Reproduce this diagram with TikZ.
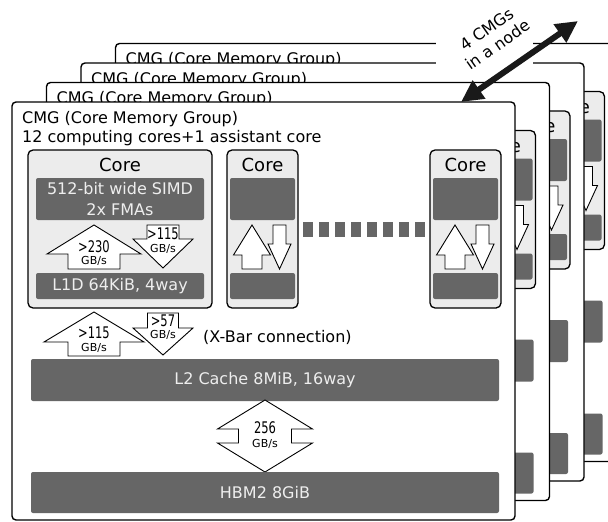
\documentclass[tikz,border=0pt]{standalone}
\usepackage{fontspec}
\setmainfont{DejaVu Sans}
\newfontfamily\condfont[FakeStretch=0.72]{DejaVu Sans}
\usepackage{graphicx}
\usetikzlibrary{arrows.meta}
\definecolor{barfill}{HTML}{666666}
\definecolor{corefill}{HTML}{ECECEC}
\definecolor{bartext}{HTML}{EEEEEE}
\tikzset{
  panelbox/.style={draw=black, fill=white, line width=1.4pt, rounded corners=4pt},
  corebox/.style={draw=black, fill=corefill, line width=1.3pt, rounded corners=5pt},
  bar/.style={fill=barfill, rounded corners=2pt, inner sep=0pt, text=bartext, align=center, font=\fontsize{16}{21}\selectfont},
  blockarr/.style={draw=black, fill=white, line width=0.9pt, line join=miter},
  numtxt/.style={font=\condfont\fontsize{16}{16}\selectfont, inner sep=0pt},
  unittxt/.style={font=\fontsize{11}{11}\selectfont, inner sep=0pt},
  titletxt/.style={font=\fontsize{16}{19}\selectfont, anchor=west, inner sep=0pt},
  coretitle/.style={font=\fontsize{18}{20}\selectfont, inner sep=0pt},
  cmgarrow/.style={{Triangle[length=22pt,width=21pt]}-{Triangle[length=22pt,width=21pt]}, line width=6pt, draw=black!90}
}
% text that only the front CMG shows (the others are covered)
\newcommand\fronttext[1]{\ifnum\k=0 #1\fi}
% block arrows: x, tip y, head half, head base y, shaft half, bottom y
\newcommand\blkup[6]{%
  \draw[blockarr] (#1,#2) -- ({#1+#3},#4) -- ({#1+#5},#4) -- ({#1+#5},#6) -- ({#1-#5},#6) -- ({#1-#5},#4) -- ({#1-#3},#4) -- cycle;}
% x, top y, shaft half, head base y, head half, tip y
\newcommand\blkdown[6]{%
  \draw[blockarr] ({#1-#3},#2) -- ({#1+#3},#2) -- ({#1+#3},#4) -- ({#1+#5},#4) -- (#1,#6) -- ({#1-#5},#4) -- ({#1-#3},#4) -- cycle;}
% narrow core: left x, name, title
\newcommand\narrowcore[3]{%
  \draw[corebox] (#1,150) rectangle ++(71,158);
  \node[coretitle] (#2) at ({#1+35.5},165) {#3};
  \node[bar, minimum width=65pt, minimum height=42pt] (#2simd) at ({#1+35.5},199) {};
  \node[bar, minimum width=65pt, minimum height=26pt] (#2lone) at ({#1+35.5},286) {};
  \blkup{#1+25}{225}{18.5}{255}{10}{269}
  \blkdown{#1+52.5}{225}{6.5}{244}{11.5}{269}}
% one CMG, names end in \k
\newcommand\cmgpanel{%
  \draw[panelbox] (12,102) rectangle (515,520);
  \node[titletxt] (cmgtitle\k) at (22,119) {CMG (Core Memory Group)};
  \node[titletxt] (cmgcores\k) at (22,138) {\fronttext{12 computing cores+1 assistant core}};
  % first core
  \draw[corebox] (28,150) rectangle (212,308);
  \node[coretitle] (corea\k) at (120,165) {\fronttext{Core}};
  \node[bar, minimum width=168pt, minimum height=42pt] (simd\k) at (120,199) {\fronttext{512-bit wide SIMD\\2x FMAs}};
  \node[bar, minimum width=168pt, minimum height=26pt] (lone\k) at (120,286) {\fronttext{L1D 64KiB, 4way}};
  \blkup{94}{225}{47}{254}{26}{269}
  \node[numtxt] (ldbw\k) at (94,247) {\fronttext{>230}};
  \node[unittxt] (ldunit\k) at (94,261) {\fronttext{GB/s}};
  \blkdown{163}{225}{16}{239}{30}{268}
  \node[numtxt] (stbw\k) at (163,234) {\fronttext{>115}};
  \node[unittxt] (stunit\k) at (163,249) {\fronttext{GB/s}};
  % other cores
  \narrowcore{227}{coreb\k}{\fronttext{Core}}
  \foreach \i in {0,...,7}
    \fill[barfill] ({303+16*\i},222) rectangle ++(10,15);
  \narrowcore{430}{corec\k}{Core}
  % x-bar
  \blkup{94}{312}{50}{342}{26}{356}
  \node[numtxt] (xldbw\k) at (94,333) {\fronttext{>115}};
  \node[unittxt] (xldunit\k) at (94,348) {\fronttext{GB/s}};
  \blkdown{163}{313}{15.5}{328}{30}{355}
  \node[numtxt] (xstbw\k) at (163,321) {\fronttext{>57}};
  \node[unittxt] (xstunit\k) at (163,335) {\fronttext{GB/s}};
  \node[titletxt] (xbar\k) at (203,337) {\fronttext{(X-Bar connection)}};
  % L2 and HBM2
  \node[bar, minimum width=468pt, minimum height=42pt] (ltwo\k) at (265,380) {\fronttext{L2 Cache 8MiB, 16way}};
  \draw[blockarr] (265,400) -- (312.5,429) -- (291.5,429) -- (291.5,443) -- (312.5,443) -- (265,472)
    -- (217.5,443) -- (238.5,443) -- (238.5,429) -- (217.5,429) -- cycle;
  \node[numtxt] (hbmbw\k) at (265,428) {\fronttext{256}};
  \node[unittxt] (hbmunit\k) at (265,444) {\fronttext{GB/s}};
  \node[bar, minimum width=468pt, minimum height=41pt] (hbm\k) at (265,492.5) {\fronttext{HBM2 8GiB}};
}

\begin{document}
\begin{tikzpicture}[x=1pt, y=-1pt]
  \useasboundingbox (0,0) rectangle (608,522);
  \clip (0,0) rectangle (608,522);

  \foreach \k in {3,2,1,0} {
    \begin{scope}[shift={(34.5*\k,-19.5*\k)}]
      \cmgpanel
    \end{scope}
  }

  % label over the stack
  \fill[white] (436,8) rectangle (533,72);
  \node[font=\fontsize{16}{19}\selectfont, align=center, rotate=35, inner sep=0pt] (cmglabel) at (492,37) {4 CMGs\\in a node};
  \coordinate (cmgnear) at (461,102);
  \coordinate (cmgfar) at (578,21);
  \draw[cmgarrow] (cmgnear) -- (cmgfar);
\end{tikzpicture}
\end{document}
